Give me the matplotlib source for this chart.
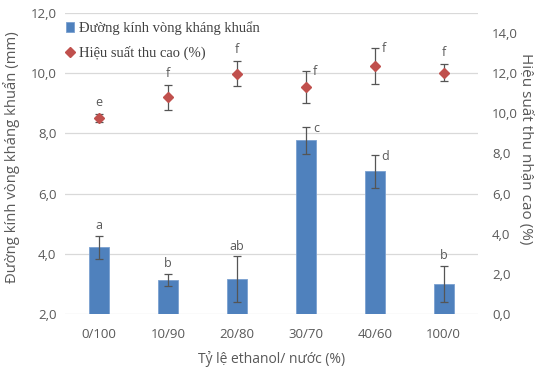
import matplotlib
matplotlib.use("Agg")
import matplotlib.pyplot as plt
from matplotlib.ticker import FuncFormatter, MultipleLocator
import numpy as np

# ethanol / water ratios
ratios = ['0/100', '10/90', '20/80', '30/70', '40/60', '100/0']

# inhibition zone diameter (mm), left axis
zone = [4.22, 3.14, 3.16, 7.77, 6.74, 3.00]
zone_err = [0.38, 0.20, 0.75, 0.44, 0.55, 0.60]
zone_sig = ['a', 'b', 'ab', 'c', 'd', 'b']

# extraction yield (%), right axis
yld = [9.78, 10.80, 11.98, 11.33, 12.37, 12.03]
yld_err = [0.20, 0.62, 0.62, 0.80, 0.90, 0.44]
yld_sig = ['e', 'f', 'f', 'f', 'f', 'f']

txt = '#595959'
comma = FuncFormatter(lambda v, p: ('%.1f' % v).replace('.', ','))
plt.rcParams['font.family'] = ['Open Sans', 'DejaVu Sans']

fig = plt.figure(figsize=(5.36, 3.72), dpi=100)
ax = fig.add_axes([0.121, 0.156, 0.771, 0.809])
ax2 = ax.twinx()

x = np.arange(len(ratios))
ax.bar(x, zone, width=0.29, bottom=0, color='#4f81bd', edgecolor='#7aa0d0',
       linewidth=0.6, zorder=2, label='Đường kính vòng kháng khuẩn')
ax.errorbar(x, zone, yerr=zone_err, fmt='none', ecolor='#555555',
            elinewidth=0.9, capsize=3, capthick=0.9, zorder=3)
ax2.errorbar(x, yld, yerr=yld_err, fmt='none', ecolor='#555555',
             elinewidth=0.9, capsize=3, capthick=0.9, zorder=3)
ax2.plot(x, yld, 'D', color='#c0504d', markersize=5.5, linestyle='none',
         zorder=4, label='Hiệu suất thu cao (%)')

# significance letters
for i in range(len(x)):
    top = zone[i] + zone_err[i]
    if ratios[i] in ('30/70', '40/60'):
        ax.text(x[i] + 0.1, top - 0.05, zone_sig[i], fontsize=9, color=txt,
                ha='left', va='center')
    else:
        ax.text(x[i], top + 0.12, zone_sig[i], fontsize=9, color=txt,
                ha='center', va='bottom')
    ytop = yld[i] + yld_err[i]
    if ratios[i] in ('30/70', '40/60'):
        ax2.text(x[i] + 0.1, ytop - 0.05, yld_sig[i], fontsize=9, color=txt,
                 ha='left', va='center')
    else:
        ax2.text(x[i], ytop + 0.25, yld_sig[i], fontsize=9, color=txt,
                 ha='center', va='bottom')

ax.set_xlim(-0.5, len(ratios) - 0.5)
ax.set_ylim(2, 12)
ax2.set_ylim(0, 15)
ax.yaxis.set_major_locator(MultipleLocator(2))
ax2.set_yticks(np.arange(0, 15, 2))
ax.yaxis.set_major_formatter(comma)
ax2.yaxis.set_major_formatter(comma)
ax.set_xticks(x)
ax.set_xticklabels(ratios)

ax.grid(axis='y', color='#d9d9d9', linewidth=0.9, zorder=0)
ax.set_axisbelow(True)
for a in (ax, ax2):
    for s in a.spines.values():
        s.set_visible(False)
    a.tick_params(length=0, labelsize=9.5, labelcolor=txt)
ax.tick_params(axis='x', pad=10)
ax.tick_params(axis='y', pad=6)
ax2.tick_params(axis='y', pad=10)

ax.set_xlabel('Tỷ lệ ethanol/ nước (%)', fontsize=10, color=txt, labelpad=7)
ax.set_ylabel('Đường kính vòng kháng khuẩn (mm)', fontsize=10.7, color=txt,
              ha='center', va='center')
ax.yaxis.set_label_coords(-0.13, 0.52)
ax2.set_ylabel('Hiệu suất thu nhận cao (%)', fontsize=11, color=txt,
               rotation=-90, ha='center', va='center')
ax2.yaxis.set_label_coords(1.114, 0.55)

h1, l1 = ax.get_legend_handles_labels()
h2, l2 = ax2.get_legend_handles_labels()
ax2.legend(h1 + h2, l1 + l2, loc='upper left', bbox_to_anchor=(-0.03, 1.015),
           frameon=False, handlelength=0.6, handletextpad=0.3,
           labelspacing=0.75, prop={'family': 'Liberation Serif', 'size': 10.5})
leg = ax2.get_legend()
for t in leg.get_texts():
    t.set_color('#404040')

fig.savefig('out.png', dpi=100)
